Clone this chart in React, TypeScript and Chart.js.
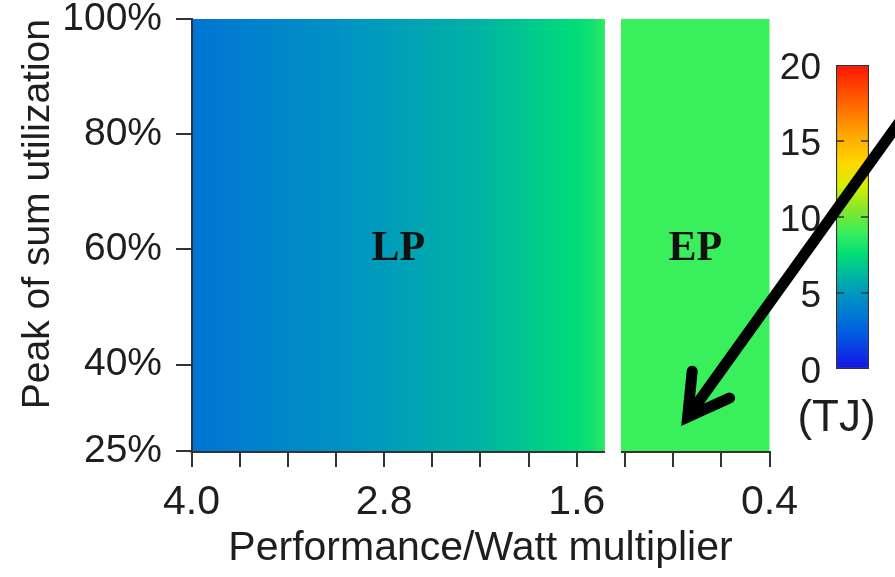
import React, { useEffect, useRef } from 'react';
import { Chart, registerables } from 'chart.js';

Chart.register(...registerables);

// ---- data ----
const xTickValues = [4.0, 3.7, 3.4, 3.1, 2.8, 2.5, 2.2, 1.9, 1.6, 1.3, 1.0, 0.7, 0.4];
const xTickLabels = ['4.0', '2.8', '1.6', '0.4'];
const yTickValues = [25, 40, 60, 80, 100];
const utilRange = [25, 100];
const multRange = [0.4, 4.0];

// LP region: Performance/Watt multiplier vs energy (TJ), constant over utilization
const lpX = [4.0, 3.7, 3.4, 3.1, 2.8, 2.5, 2.2, 1.9, 1.6, 1.5, 1.425];
const lpEnergy = [3.4, 3.85, 4.3, 4.7, 5.15, 5.6, 6.0, 6.75, 7.5, 8.0, 8.7];
// EP region
const epX = [1.325, 0.4];
const epEnergy = [9.0, 9.0];

const regionNames = ['LP', 'EP'];
const regionLabelUtil = [60, 60];

// colour scale (TJ)
const cmapValues = [0, 2.5, 5, 7.5, 9, 10.5, 12, 13.5, 15.5, 17.5, 20];
const cmapColors = ['#1414e6', '#0060e0', '#0098c0', '#00dc78', '#3aef5c', '#84e62c', '#d4f000', '#ffd800', '#ffa400', '#ff6400', '#ff1400'];
const energyRange = [0, 20];
const cbTicks = [0, 5, 10, 15, 20];
const energyUnit = '(TJ)';

// annotation arrow (in data coordinates: multiplier, utilization %)
const arrowTail = [-0.79, 96.9];
const arrowTip = [0.91, 30.9];

const SANS = '"Liberation Sans", Arial, Helvetica, sans-serif';
const SERIF = '"Liberation Serif", "Times New Roman", serif';
const TEXT = '#1e1e1e';
const AXIS = '#333333';

function hexToRgb(h: string) {
  const n = parseInt(h.slice(1), 16);
  return [(n >> 16) & 255, (n >> 8) & 255, n & 255];
}
function energyColor(e: number) {
  if (e <= cmapValues[0]) return cmapColors[0];
  for (let i = 1; i < cmapValues.length; i++) {
    if (e <= cmapValues[i]) {
      const t = (e - cmapValues[i - 1]) / (cmapValues[i] - cmapValues[i - 1]);
      const a = hexToRgb(cmapColors[i - 1]);
      const b = hexToRgb(cmapColors[i]);
      const c = a.map((v, k) => Math.round(v + (b[k] - v) * t));
      return `rgb(${c[0]},${c[1]},${c[2]})`;
    }
  }
  return cmapColors[cmapColors.length - 1];
}

const heatmapPlugin = {
  id: 'heatmap',
  beforeDatasetsDraw(chart: any) {
    const { ctx, scales } = chart;
    const x = scales.x;
    const y = scales.y;
    const yTop = y.getPixelForValue(utilRange[1]);
    const yBot = y.getPixelForValue(utilRange[0]);
    const regions = [
      { xs: lpX, es: lpEnergy },
      { xs: epX, es: epEnergy },
    ];
    ctx.save();
    regions.forEach((r, ri) => {
      const x0 = x.getPixelForValue(r.xs[0]);
      const x1 = x.getPixelForValue(r.xs[r.xs.length - 1]);
      const g = ctx.createLinearGradient(x0, 0, x1, 0);
      r.xs.forEach((v, i) => {
        const p = (x.getPixelForValue(v) - x0) / (x1 - x0);
        g.addColorStop(Math.min(1, Math.max(0, p)), energyColor(r.es[i]));
      });
      ctx.fillStyle = g;
      ctx.fillRect(x0, yTop, x1 - x0, yBot - yTop);
      // broken x axis line segment under each region
      ctx.strokeStyle = AXIS;
      ctx.lineWidth = 2;
      ctx.beginPath();
      ctx.moveTo(x0 - (ri === 0 ? 1 : 0), yBot + 1);
      ctx.lineTo(x1, yBot + 1);
      ctx.stroke();
      // region label
      const mid = (r.xs[0] + r.xs[r.xs.length - 1]) / 2;
      ctx.fillStyle = '#111';
      ctx.font = `bold 42px ${SERIF}`;
      ctx.textAlign = 'center';
      ctx.textBaseline = 'middle';
      ctx.fillText(regionNames[ri], x.getPixelForValue(mid), y.getPixelForValue(regionLabelUtil[ri]));
    });
    ctx.restore();
  },
  afterDraw(chart: any) {
    const { ctx, scales } = chart;
    const x = scales.x;
    const y = scales.y;
    const tip = [x.getPixelForValue(arrowTip[0]), y.getPixelForValue(arrowTip[1])];
    const tail = [x.getPixelForValue(arrowTail[0]), y.getPixelForValue(arrowTail[1])];
    const ang = Math.atan2(tail[1] - tip[1], tail[0] - tip[0]);
    const wing = 46;
    const spread = (30 * Math.PI) / 180;
    ctx.save();
    ctx.strokeStyle = '#000';
    ctx.lineWidth = 11;
    ctx.lineCap = 'butt';
    ctx.beginPath();
    ctx.moveTo(tail[0], tail[1]);
    ctx.lineTo(tip[0], tip[1]);
    ctx.stroke();
    ctx.lineJoin = 'miter';
    ctx.miterLimit = 10;
    ctx.lineCap = 'round';
    ctx.beginPath();
    ctx.moveTo(tip[0] + wing * Math.cos(ang - spread), tip[1] + wing * Math.sin(ang - spread));
    ctx.lineTo(tip[0], tip[1]);
    ctx.lineTo(tip[0] + wing * Math.cos(ang + spread), tip[1] + wing * Math.sin(ang + spread));
    ctx.stroke();
    ctx.restore();
  },
};

const cbTickPlugin = {
  id: 'cbTicks',
  afterDatasetsDraw(chart: any) {
    const { ctx, chartArea, scales } = chart;
    const y = scales.y;
    ctx.save();
    ctx.strokeStyle = AXIS;
    ctx.lineWidth = 1.5;
    cbTicks.forEach((v) => {
      if (v === energyRange[0] || v === energyRange[1]) return;
      const py = y.getPixelForValue(v);
      ctx.beginPath();
      ctx.moveTo(chartArea.left, py);
      ctx.lineTo(chartArea.left + 8, py);
      ctx.moveTo(chartArea.right - 8, py);
      ctx.lineTo(chartArea.right, py);
      ctx.stroke();
    });
    ctx.restore();
  },
};

export default function App() {
  const mainRef = useRef<HTMLCanvasElement>(null);
  const cbRef = useRef<HTMLCanvasElement>(null);

  useEffect(() => {
    const main = new Chart(mainRef.current as HTMLCanvasElement, {
      type: 'scatter',
      data: { datasets: [] },
      plugins: [heatmapPlugin],
      options: {
        responsive: false,
        animation: false,
        layout: { padding: { left: 0, right: 125.5, top: 19, bottom: 0 } },
        plugins: { legend: { display: false }, tooltip: { enabled: false } },
        scales: {
          x: {
            type: 'linear',
            min: multRange[0],
            max: multRange[1],
            reverse: true,
            afterBuildTicks: (s: any) => {
              s.ticks = xTickValues.map((v) => ({ value: v }));
            },
            afterFit: (s: any) => {
              s.height = 126;
              s.paddingLeft = 0;
              s.paddingRight = 0;
            },
            ticks: {
              autoSkip: false,
              maxRotation: 0,
              padding: 11,
              color: TEXT,
              font: { family: SANS, size: 41 },
              callback: (v: any) => {
                const s = Number(v).toFixed(1);
                return xTickLabels.includes(s) ? s : '';
              },
            },
            grid: { drawOnChartArea: false, drawTicks: true, tickLength: 16, color: AXIS, lineWidth: 2 },
            border: { display: false },
            title: {
              display: true,
              text: 'Performance/Watt multiplier',
              color: TEXT,
              font: { family: SANS, size: 41 },
              padding: { top: 0, bottom: 4 },
            },
          },
          y: {
            type: 'linear',
            min: utilRange[0],
            max: utilRange[1],
            afterBuildTicks: (s: any) => {
              s.ticks = yTickValues.map((v) => ({ value: v }));
            },
            afterFit: (s: any) => {
              s.width = 191.5;
              s.paddingTop = 0;
              s.paddingBottom = 0;
            },
            ticks: {
              padding: 14,
              color: TEXT,
              font: { family: SANS, size: 39 },
              callback: (v: any) => `${v}%`,
            },
            grid: { drawOnChartArea: false, drawTicks: true, tickLength: 15.5, color: AXIS, lineWidth: 2 },
            border: { display: true, color: AXIS, width: 2, z: 1 },
            title: {
              display: true,
              text: 'Peak of sum utilization',
              align: 'end',
              color: TEXT,
              font: { family: SANS, size: 39 },
              padding: { top: 15, bottom: 0 },
            },
          },
        },
      },
    } as any);

    const cb = new Chart(cbRef.current as HTMLCanvasElement, {
      type: 'bar',
      data: {
        labels: [''],
        datasets: [
          {
            data: [[energyRange[0], energyRange[1]]],
            backgroundColor: (c: any) => {
              const ch = c.chart;
              if (!ch.chartArea) return cmapColors[0];
              const ys = ch.scales.y;
              const y0 = ys.getPixelForValue(energyRange[0]);
              const y1 = ys.getPixelForValue(energyRange[1]);
              const g = ch.ctx.createLinearGradient(0, y0, 0, y1);
              cmapValues.forEach((v, i) => {
                g.addColorStop((v - energyRange[0]) / (energyRange[1] - energyRange[0]), cmapColors[i]);
              });
              return g;
            },
            borderColor: AXIS,
            borderWidth: 1.5,
            borderSkipped: false,
            barPercentage: 1,
            categoryPercentage: 1,
          },
        ],
      },
      plugins: [cbTickPlugin],
      options: {
        responsive: false,
        animation: false,
        layout: { padding: { left: 0, right: 0, top: 25, bottom: 14.6 } },
        plugins: {
          legend: { display: false },
          tooltip: { enabled: false },
          title: {
            display: true,
            text: energyUnit,
            position: 'bottom',
            color: TEXT,
            font: { family: SANS, size: 44, weight: 'normal' },
            padding: { top: 23.6, bottom: 0 },
          },
        },
        scales: {
          x: { display: false },
          y: {
            min: energyRange[0],
            max: energyRange[1],
            afterBuildTicks: (s: any) => {
              s.ticks = cbTicks.map((v) => ({ value: v }));
            },
            afterFit: (s: any) => {
              s.width = 58;
              s.paddingTop = 0;
              s.paddingBottom = 0;
            },
            ticks: { padding: 15, labelOffset: 4, color: TEXT, font: { family: SANS, size: 37 } },
            grid: { display: false, drawTicks: false },
            border: { display: false },
          },
          yRight: {
            type: 'linear',
            position: 'right',
            min: 0,
            max: 1,
            afterFit: (s: any) => {
              s.width = 26;
              s.paddingTop = 0;
              s.paddingBottom = 0;
            },
            ticks: { display: false },
            grid: { display: false, drawTicks: false },
            border: { display: false },
          },
        },
      },
    } as any);

    return () => {
      main.destroy();
      cb.destroy();
    };
  }, []);

  return (
    <div style={{ position: 'absolute', left: 0, top: 0, width: 895, height: 577, background: '#fff' }}>
      <canvas
        ref={cbRef}
        width={117}
        height={420}
        style={{ position: 'absolute', left: 778, top: 40, width: 117, height: 420, zIndex: 1 }}
      />
      <canvas
        ref={mainRef}
        width={895}
        height={577}
        style={{ position: 'absolute', left: 0, top: 0, width: 895, height: 577, zIndex: 2 }}
      />
    </div>
  );
}
